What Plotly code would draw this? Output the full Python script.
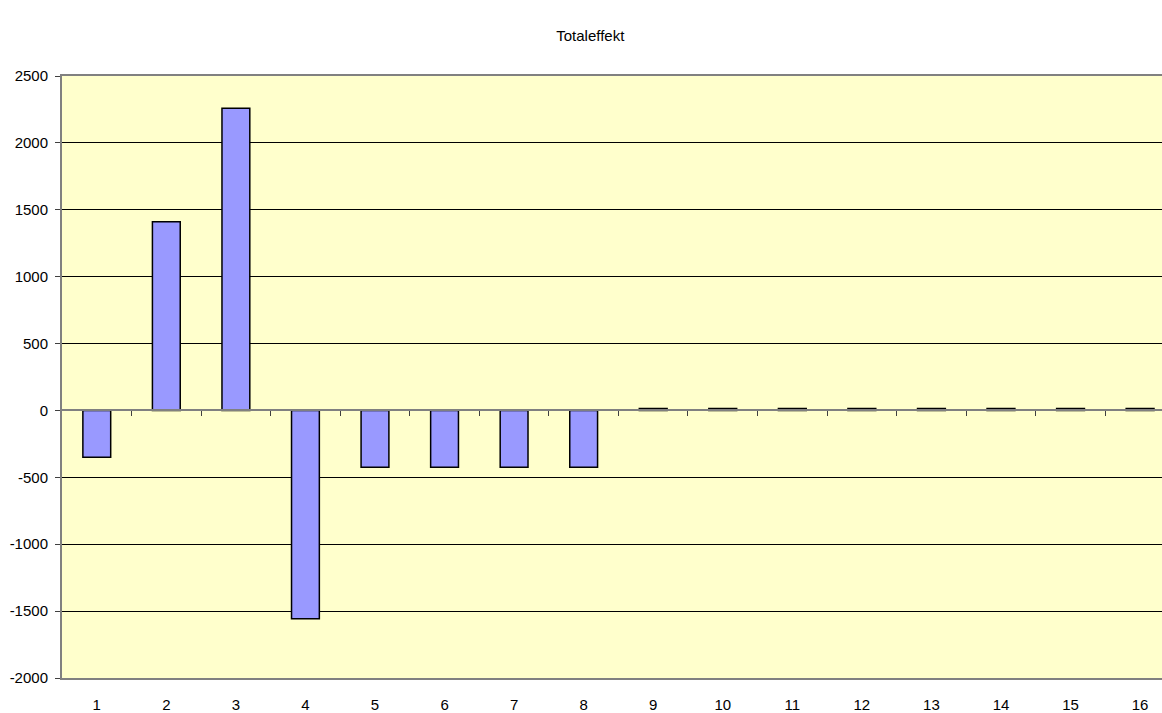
import plotly.graph_objects as go

categories = [str(i) for i in range(1, 17)]
values = [-350, 1410, 2258, -1558, -424, -424, -424, -424, 15, 15, 15, 15, 15, 15, 15, 15]
y_ticks = [-2000, -1500, -1000, -500, 0, 500, 1000, 1500, 2000, 2500]
y_tick_labels = ["-2000", "-1500", "-1000", "-500", "0", "500", "1000", "1500", "2000", "2500"]
title_text = "Totaleffekt"

x_pos = list(range(1, 17))
FONT = "Liberation Sans, Arial, sans-serif"

fig = go.Figure()
fig.add_trace(go.Bar(
    x=x_pos, y=values,
    marker=dict(color="#9999FF", line=dict(color="#000000", width=1.5)),
    width=0.4,
))

fig.update_layout(
    width=1162, height=713,
    margin=dict(l=62, r=0, t=76, b=33),
    paper_bgcolor="white",
    plot_bgcolor="#FFFFCC",
    showlegend=False,
    font=dict(family=FONT, size=15, color="black"),
    title=dict(text=title_text, x=0.508, xanchor="center", y=0.95, yanchor="middle",
               font=dict(family=FONT, size=15, color="black")),
    xaxis=dict(
        range=[0.5, 16.315],
        tickvals=x_pos, ticktext=categories,
        ticks="outside", ticklen=12, tickcolor="rgba(0,0,0,0)",
        showgrid=False, zeroline=False,
        showline=True, linecolor="#808080", linewidth=2, mirror=True,
        tickfont=dict(family=FONT, size=15),
    ),
    xaxis2=dict(
        range=[0.5, 16.315],
        overlaying="x", anchor="free", position=2000 / 4500,
        side="bottom",
        tickvals=[i + 0.5 for i in range(1, 16)],
        ticks="outside", ticklen=5, tickcolor="#404040", tickwidth=1,
        showticklabels=False, showgrid=False, zeroline=False,
        showline=True, linecolor="#808080", linewidth=2,
    ),
    yaxis=dict(
        range=[-2000, 2500],
        tickvals=y_ticks, ticktext=y_tick_labels,
        ticks="outside", ticklen=5, tickcolor="#404040", tickwidth=1,
        showgrid=True, gridcolor="#000000", gridwidth=1,
        zeroline=False,
        showline=True, linecolor="#808080", linewidth=2,
        tickfont=dict(family=FONT, size=15),
        ticklabelstandoff=4,
    ),
)
# invisible helper trace so the zero-line axis renders
fig.add_trace(go.Scatter(x=[1], y=[0], xaxis="x2", mode="markers",
                         marker=dict(opacity=0), hoverinfo="skip"))

fig.write_html("out.html", config={"displayModeBar": False})

with open("out.html", "r", encoding="utf-8") as f:
    html = f.read()
html = html.replace("<head>", "<head><style>html,body{margin:0;padding:0;overflow:hidden;}</style>", 1)
with open("out.html", "w", encoding="utf-8") as f:
    f.write(html)
